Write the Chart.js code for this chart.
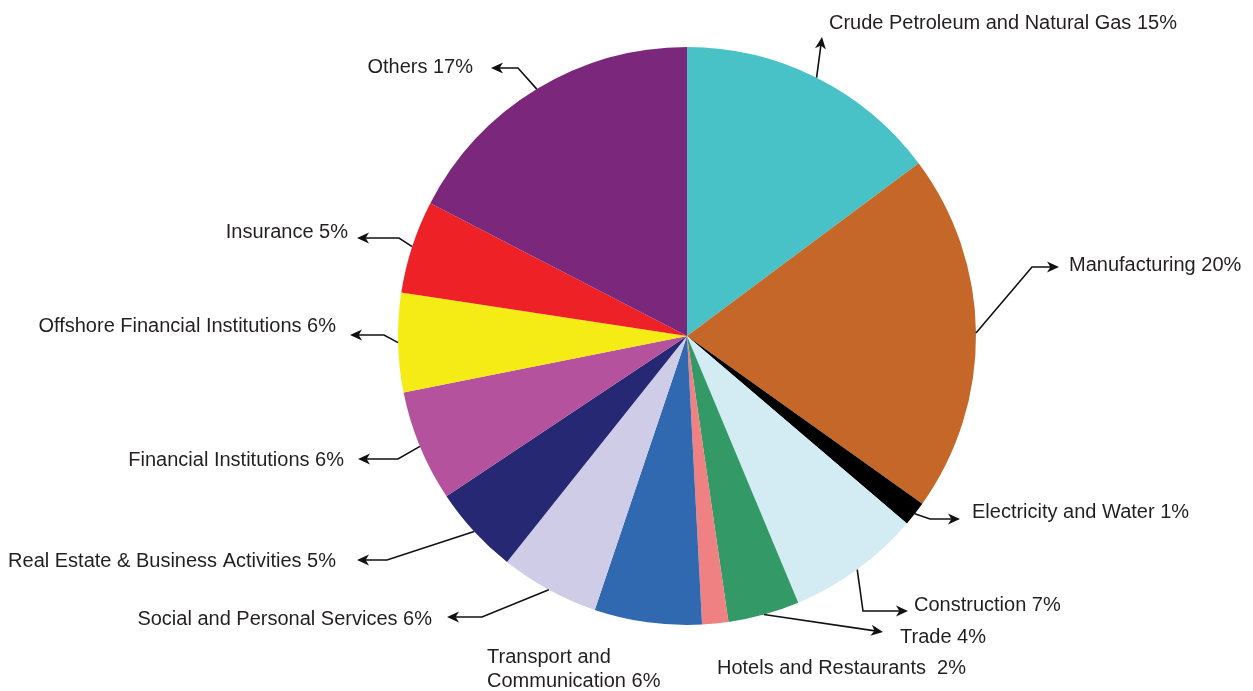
<!DOCTYPE html>
<html>
<head>
<meta charset="utf-8">
<script src="https://cdn.jsdelivr.net/npm/chart.js@4/dist/chart.umd.min.js"></script>
<style>
  html, body { margin: 0; padding: 0; background: #ffffff; }
  #wrap { width: 1253px; height: 691px; position: relative; }
</style>
</head>
<body>
<div id="wrap"><canvas id="gdpPie"></canvas></div>
<script>
// Sectors, clockwise from 12 o'clock
const sectors = [
    'Crude Petroleum and Natural Gas', 'Manufacturing', 'Electricity and Water',
    'Construction', 'Trade', 'Hotels and Restaurants', 'Transport and Communication',
    'Social and Personal Services', 'Real Estate & Business Activities',
    'Financial Institutions', 'Offshore Financial Institutions', 'Insurance', 'Others'
];
// Shares (percent)
const shares = [14.8, 20.06, 1.38, 7.47, 4.0, 1.46, 6.0, 5.53, 4.95, 6.22, 5.53, 5.2, 17.4];
// Printed percentage labels
const shareLabels = ['15%', '20%', '1%', '7%', '4%', '2%', '6%', '6%', '5%', '6%', '6%', '5%', '17%'];
const sliceColors = [
    '#48c2c6', '#c46728', '#000000', '#d3ecf3', '#339966', '#f08182', '#3069b0',
    '#cecce6', '#272874', '#b5529e', '#f5eb15', '#ee2126', '#7b287c'
];

// Label placement: text anchor, optional elbow, arrow tip (null = no leader)
const labelLayout = [
    { x: 829, y: 29, align: 'left', elbow: null, tip: [822, 37] },
    { x: 1069, y: 271, align: 'left', elbow: [1032, 267], tip: [1059, 267] },
    { x: 972, y: 518, align: 'left', elbow: [930, 519], tip: [960, 519] },
    { x: 914, y: 611, align: 'left', elbow: [863, 611], tip: [908, 611] },
    { x: 900, y: 643, align: 'left', elbow: null, tip: [883, 632] },
    { x: 717, y: 674, align: 'left', elbow: null, tip: null, text: ['Hotels and Restaurants  2%'] },
    { x: 487, y: 663, align: 'left', elbow: null, tip: null, text: ['Transport and', 'Communication 6%'] },
    { x: 432, y: 625, align: 'right', elbow: [482, 617], tip: [447, 617] },
    { x: 336, y: 567, align: 'right', elbow: [387, 560], tip: [357, 560] },
    { x: 344, y: 466, align: 'right', elbow: [398, 459], tip: [358, 459] },
    { x: 336, y: 332, align: 'right', elbow: [384, 335], tip: [350, 335] },
    { x: 348, y: 238, align: 'right', elbow: [399, 238], tip: [357, 238] },
    { x: 473, y: 73, align: 'right', elbow: [518, 68], tip: [491, 68] }
];

function drawArrowHead(ctx, from, to) {
    const ang = Math.atan2(to[1] - from[1], to[0] - from[0]);
    const len = 12, half = 5.5;
    const c = Math.cos(ang), s = Math.sin(ang);
    ctx.beginPath();
    ctx.moveTo(to[0], to[1]);
    ctx.lineTo(to[0] - len * c + half * s, to[1] - len * s - half * c);
    ctx.lineTo(to[0] - len * 0.72 * c, to[1] - len * 0.72 * s);
    ctx.lineTo(to[0] - len * c - half * s, to[1] - len * s + half * c);
    ctx.closePath();
    ctx.fill();
}

const calloutPlugin = {
    id: 'callouts',
    afterDraw(chart) {
        const ctx = chart.ctx;
        const arcs = chart.getDatasetMeta(0).data;
        ctx.save();
        ctx.strokeStyle = '#111111';
        ctx.fillStyle = '#111111';
        ctx.lineWidth = 1.6;
        arcs.forEach((arc, i) => {
            const lay = labelLayout[i];
            if (!lay.tip) return;
            const p = arc.getProps(['x', 'y', 'startAngle', 'endAngle', 'outerRadius'], true);
            const mid = (p.startAngle + p.endAngle) / 2;
            const start = [p.x + Math.cos(mid) * p.outerRadius, p.y + Math.sin(mid) * p.outerRadius];
            const tip = lay.tip;
            const before = lay.elbow || start;
            ctx.beginPath();
            ctx.moveTo(start[0], start[1]);
            if (lay.elbow) ctx.lineTo(lay.elbow[0], lay.elbow[1]);
            const ang = Math.atan2(tip[1] - before[1], tip[0] - before[0]);
            ctx.lineTo(tip[0] - 8 * Math.cos(ang), tip[1] - 8 * Math.sin(ang));
            ctx.stroke();
            drawArrowHead(ctx, before, tip);
        });

        ctx.fillStyle = '#231f20';
        ctx.font = '20px "Liberation Sans", Arial, sans-serif';
        ctx.textBaseline = 'alphabetic';
        labelLayout.forEach((lay, i) => {
            const lines = lay.text || [sectors[i] + ' ' + shareLabels[i]];
            ctx.textAlign = lay.align;
            lines.forEach((ln, k) => ctx.fillText(ln, lay.x, lay.y + k * 24));
        });
        ctx.restore();
    }
};

const ctx = document.getElementById('gdpPie').getContext('2d');
new Chart(ctx, {
    type: 'pie',
    data: {
        labels: sectors,
        datasets: [{
            data: shares,
            backgroundColor: sliceColors,
            borderWidth: 0,
            hoverOffset: 0,
            offset: 0
        }]
    },
    options: {
        responsive: true,
        maintainAspectRatio: false,
        animation: false,
        layout: { padding: { left: 398, right: 277, top: 47, bottom: 66 } },
        plugins: {
            legend: { display: false },
            tooltip: { enabled: false }
        }
    },
    plugins: [calloutPlugin]
});
</script>
</body>
</html>
